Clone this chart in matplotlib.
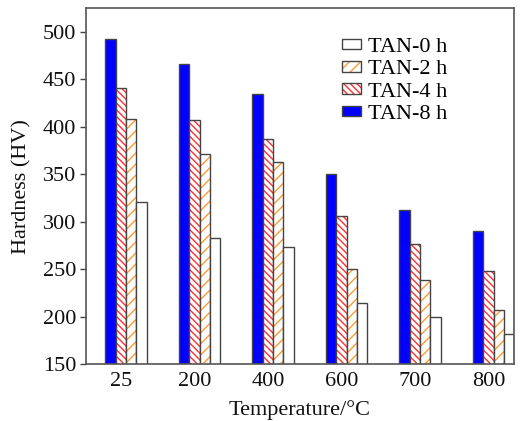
import numpy as np
import matplotlib
matplotlib.use("Agg")
import matplotlib.pyplot as plt
from matplotlib.legend_handler import HandlerTuple

temps = ["25", "200", "400", "600", "700", "800"]
tan_0h = [321, 283, 273, 214, 200, 182]
tan_2h = [408, 371, 363, 250, 239, 207]
tan_4h = [441, 407, 387, 306, 276, 248]
tan_8h = [493, 466, 435, 350, 312, 290]

plt.rcParams["font.family"] = ["Liberation Serif", "DejaVu Serif"]
plt.rcParams["hatch.linewidth"] = 1.0

fig = plt.figure(figsize=(5.23, 4.21), dpi=100)
ax = fig.add_axes([0.1644, 0.1354, 0.8186, 0.8449])

x = np.arange(len(temps))
w = 0.14
edge = "#444444"

# bars in drawing order: 8 h, 4 h, 2 h, 0 h
b8 = ax.bar(x - 1.5 * w, tan_8h, w, color="#0000ff", edgecolor=edge, linewidth=1)

h4 = ax.bar(x - 0.5 * w, tan_4h, w, color="white", edgecolor="#ff3030", hatch="\\\\\\\\\\", linewidth=0)
o4 = ax.bar(x - 0.5 * w, tan_4h, w, fill=False, edgecolor=edge, linewidth=1)

h2 = ax.bar(x + 0.5 * w, tan_2h, w, color="white", edgecolor="#ff9a30", hatch="///", linewidth=0)
o2 = ax.bar(x + 0.5 * w, tan_2h, w, fill=False, edgecolor=edge, linewidth=1)

b0 = ax.bar(x + 1.5 * w, tan_0h, w, color="white", edgecolor=edge, linewidth=1)

ax.set_ylim(150, 525)
ax.set_xlim(-0.544, 5.279)
ax.set_yticks(range(150, 501, 50))
ax.set_xticks(x - 0.06)
ax.set_xticklabels(temps)

ax.tick_params(axis="x", length=0, labelsize=16, pad=6, colors="#111111")
ax.tick_params(axis="y", direction="out", length=4, width=1, labelsize=16, pad=3, colors="#111111")
ax.tick_params(axis="y", color="#444444")
for s in ax.spines.values():
    s.set_color("#555555")
    s.set_linewidth(1.2)

ax.set_xlabel("Temperature/\u00b0C", fontsize=16, labelpad=6, color="#111111")
ax.set_ylabel("Hardness (HV)", fontsize=16, labelpad=8, color="#111111")

handles = [b0[0], (h2[0], o2[0]), (h4[0], o4[0]), b8[0]]
labels = ["TAN-0 h", "TAN-2 h", "TAN-4 h", "TAN-8 h"]
leg = fig.legend(handles, labels, loc="upper left", bbox_to_anchor=(342 / 523, (421 - 38) / 421),
                 frameon=False, fontsize=16, handlelength=0.85, handleheight=0.35,
                 handletextpad=0.3, labelspacing=0.15, borderpad=0, borderaxespad=0,
                 handler_map={tuple: HandlerTuple(ndivide=1, pad=0)})

fig.savefig("out.png", dpi=100)
